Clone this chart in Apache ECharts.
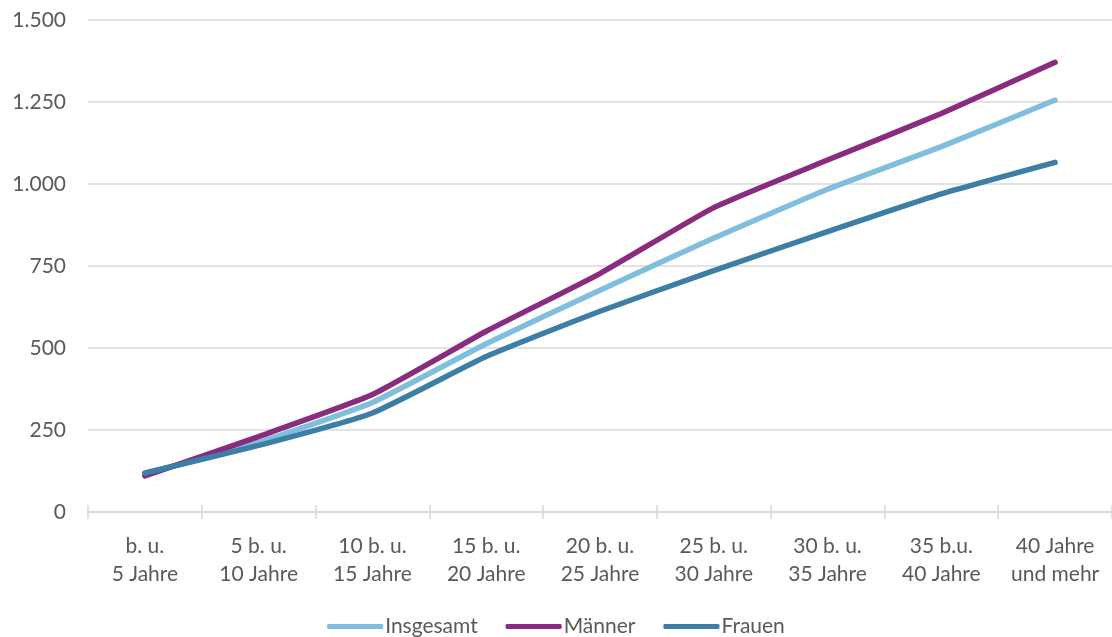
<!DOCTYPE html>
<html>
<head>
<meta charset="utf-8">
<script src="https://cdn.jsdelivr.net/npm/echarts@6/dist/echarts.min.js"></script>
<style>
  html, body { margin: 0; padding: 0; background: #fff; }
  #chart { width: 1112px; height: 637px; }
</style>
</head>
<body>
<div id="chart"></div>
<script>
// Dauer der Betriebszugehörigkeit (Kategorien) und Werte je Gruppe
const categories = [
  'b. u.\n5 Jahre', '5 b. u.\n10 Jahre', '10 b. u.\n15 Jahre', '15 b. u.\n20 Jahre',
  '20 b. u.\n25 Jahre', '25 b. u.\n30 Jahre', '30 b. u.\n35 Jahre', '35 b.u.\n40 Jahre',
  '40 Jahre\nund mehr'
];
const insgesamt = [116, 212, 334, 513, 676, 835, 984, 1114, 1256];
const maenner   = [110, 230, 358, 551, 727, 928, 1073, 1215, 1371];
const frauen    = [119, 203, 302, 474, 612, 736, 855, 970, 1066];
const yTicks = [0, 250, 500, 750, 1000, 1250, 1500];

const FONT = 'Lato';
const TEXT = '#595959';
const GRID = '#d9d9d9';

const fmt = v => String(v).replace(/\B(?=(\d{3})+(?!\d))/g, '.');

const chart = echarts.init(document.getElementById('chart'));
chart.setOption({
  animation: false,
  textStyle: { fontFamily: FONT },
  grid: { left: 88, right: 0, top: 20, bottom: 125, containLabel: false },
  legend: {
    top: 611,
    left: 'center',
    itemWidth: 56,
    itemHeight: 5,
    itemGap: 28,
    icon: 'roundRect',
    textStyle: { fontFamily: FONT, fontSize: 21, color: TEXT, padding: [0, 0, 0, -3] },
    data: ['Insgesamt', 'Männer', 'Frauen']
  },
  xAxis: [{
    type: 'category',
    data: categories,
    boundaryGap: true,
    axisLine: { lineStyle: { color: GRID, width: 1.5 } },
    axisTick: { show: true, length: 7, lineStyle: { color: GRID, width: 1.5 } },
    axisLabel: { color: TEXT, fontFamily: FONT, fontSize: 21, lineHeight: 28, margin: 20, interval: 0 }
  }, {
    type: 'category',
    data: categories,
    position: 'bottom',
    boundaryGap: true,
    axisLine: { show: false },
    axisTick: { show: true, inside: true, length: 7, lineStyle: { color: GRID, width: 1.5 } },
    axisLabel: { show: false }
  }],
  yAxis: {
    type: 'value',
    min: yTicks[0],
    max: yTicks[yTicks.length - 1],
    interval: yTicks[1] - yTicks[0],
    axisLine: { show: false },
    axisTick: { show: false },
    splitLine: { lineStyle: { color: GRID, width: 1.5 } },
    axisLabel: { color: TEXT, fontFamily: FONT, fontSize: 21, margin: 22, formatter: fmt }
  },
  series: [
    { name: 'Insgesamt', type: 'line', data: insgesamt, smooth: 0.15, symbol: 'none',
      lineStyle: { width: 5.5, color: '#7fbedd', cap: 'round' }, itemStyle: { color: '#7fbedd' } },
    { name: 'Männer', type: 'line', data: maenner, smooth: 0.15, symbol: 'none',
      lineStyle: { width: 5.5, color: '#892c80', cap: 'round' }, itemStyle: { color: '#892c80' } },
    { name: 'Frauen', type: 'line', data: frauen, smooth: 0.15, symbol: 'none',
      lineStyle: { width: 5.5, color: '#3d7ea6', cap: 'round' }, itemStyle: { color: '#3d7ea6' } }
  ]
});
</script>
</body>
</html>
